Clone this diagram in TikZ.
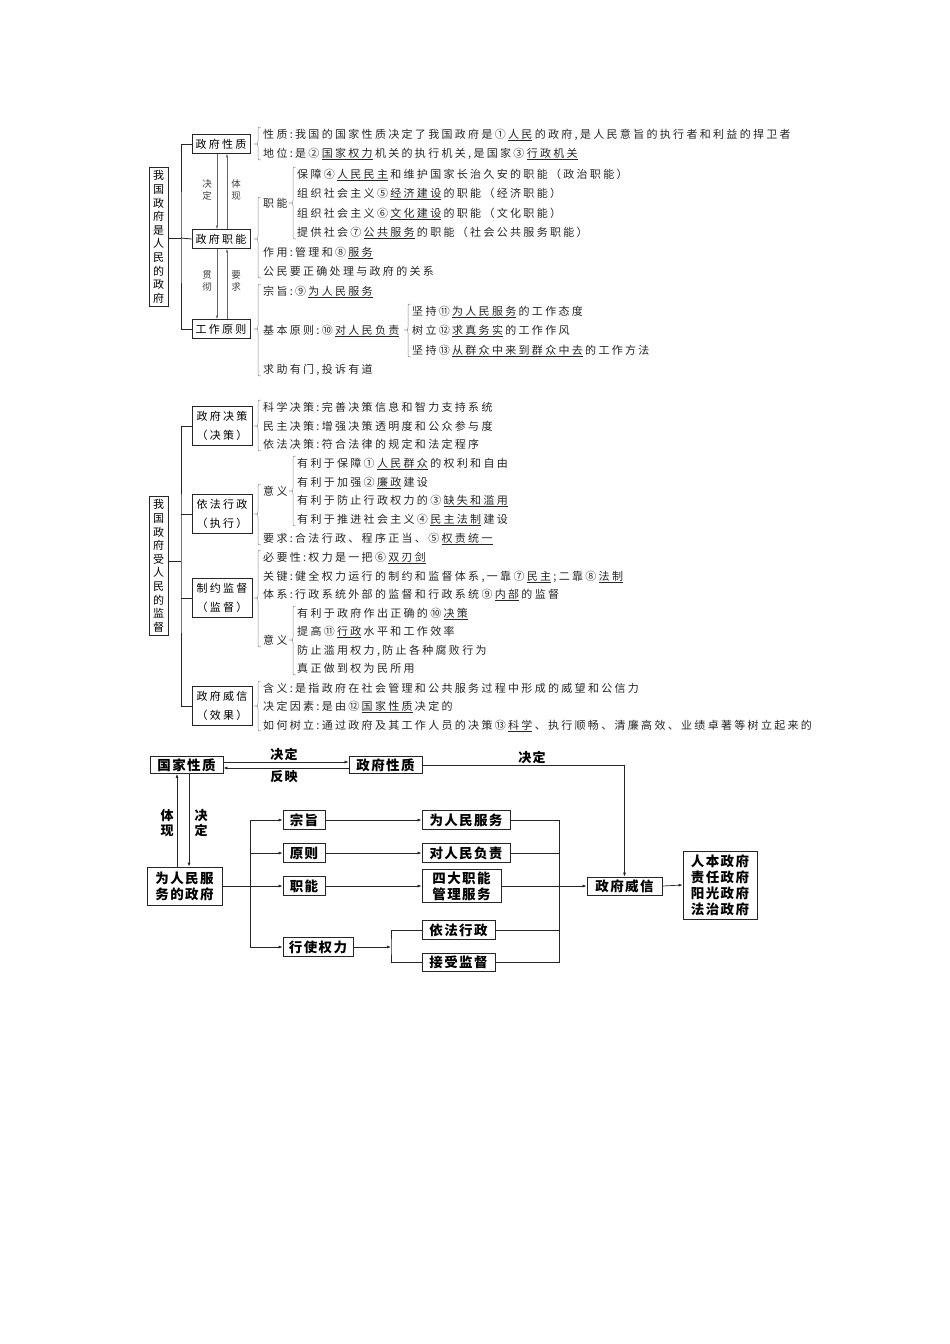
\documentclass[tikz,border=0pt]{standalone}
\usepackage{fontspec}
\newfontfamily\cjk{Noto Sans CJK SC}[LetterSpace=21]
\newfontfamily\cjkv{Noto Sans CJK SC}
\newfontfamily\cjkb{Noto Sans CJK SC}[LetterSpace=10]
\usetikzlibrary{arrows.meta,shadows}
\newcommand\uu[1]{\hspace{2.3pt}\underline{#1}\hspace{2.3pt}}
\tikzset{
  txt/.style={inner sep=0pt, anchor=west, text height=9.6pt, text depth=1.4pt,
    font=\cjk\fontsize{11}{13}\selectfont, text=black!85},
  tbox/.style={draw=black!85, line width=0.7pt, fill=white, inner sep=0pt,
    minimum width=58pt, minimum height=19pt, font=\cjk\fontsize{11}{13}\selectfont,
    drop shadow={shadow xshift=0.8pt, shadow yshift=-0.8pt, opacity=1, fill=black!70}},
  tboxb/.style={tbox, minimum width=60pt, minimum height=39pt, align=center,
    font=\cjk\fontsize{11}{19}\selectfont},
  vbox/.style={draw=black!85, line width=0.7pt, fill=white, inner sep=0pt,
    minimum width=19pt, minimum height=139pt, align=center,
    font=\cjkv\fontsize{11}{13.6}\selectfont,
    drop shadow={shadow xshift=0.8pt, shadow yshift=-0.8pt, opacity=1, fill=black!70}},
  lbl/.style={inner sep=0pt, align=center, font=\cjkv\fontsize{9.5}{12}\selectfont, text=black!75},
  thinarr/.style={draw=black!60, line width=0.5pt, -{Latex[length=3.5pt,width=2.5pt]}},
  brc/.style={draw=black!45, line width=0.5pt},
  tree/.style={draw=black!85, line width=0.8pt},
  fb/.style={draw=black!85, line width=0.8pt, inner sep=0pt, align=center,
    font=\cjkb\bfseries\fontsize{13.5}{16}\selectfont},
  farr/.style={draw=black!85, line width=0.7pt, -{Latex[length=4pt,width=3pt]}},
  fline/.style={draw=black!85, line width=0.7pt},
  flbl/.style={inner sep=0pt, align=center, font=\cjkb\bfseries\fontsize{13}{15.5}\selectfont},
}
\newcommand\brc[4]{\draw[brc] (#1+3,#2) .. controls (#1,#2) .. (#1,#2+3) -- (#1,#3-3) .. controls (#1,#3) .. (#1-4,#3) .. controls (#1,#3) .. (#1,#3+3) -- (#1,#4-3) .. controls (#1,#4) .. (#1+3,#4);}
\begin{document}
\begin{tikzpicture}[x=1pt,y=-1pt]
\useasboundingbox (0,0) rectangle (950,1344);
\fill[white] (0,0) rectangle (950,1344);

% ================= Section 1 =================
\node[vbox] (v1) at (158.5,237) {我\\国\\政\\府\\是\\人\\民\\的\\政\\府};
\node[tbox] (gs) at (221,144) {政府性质};
\node[tbox] (gz) at (221,239) {政府职能};
\node[tbox] (gy) at (221,329) {工作原则};
\coordinate (j1) at (181,238);
\draw[tree] (v1.east |- j1) -- (j1);
\draw[tree] (gs.west) -| (j1) |- (gy.west);
\draw[tree] (j1) -- (gz.west);

\draw[thinarr] ([xshift=-4pt]gs.south) -- ([xshift=-4pt]gz.north);
\draw[thinarr] ([xshift=6pt]gz.north) -- ([xshift=6pt]gs.south);
\draw[thinarr] ([xshift=-4pt]gz.south) -- ([xshift=-4pt]gy.north);
\draw[thinarr] ([xshift=6pt]gy.north) -- ([xshift=6pt]gz.south);
\node[lbl] (l1) at (207,190) {决\\定};
\node[lbl] (l2) at (236,190) {体\\现};
\node[lbl] (l3) at (207,281) {贯\\彻};
\node[lbl] (l4) at (236,281) {要\\求};

\brc{258}{127}{144}{160}
\brc{258}{197}{239}{278}
\brc{293}{167}{203}{239}
\brc{258}{284}{329}{376}
\brc{408}{304}{330}{357}

\node[txt] (t11) at (263,134) {性质:我国的国家性质决定了我国政府是①\uu{人民}的政府,是人民意旨的执行者和利益的捍卫者};
\node[txt] (t12) at (263,153) {地位:是②\uu{国家权力}机关的执行机关,是国家③\uu{行政机关}};
\node[txt] (t13) at (263,203) {职能};
\node[txt] (t131) at (297,174) {保障④\uu{人民民主}和维护国家长治久安的职能（政治职能）};
\node[txt] (t132) at (297,193) {组织社会主义⑤\uu{经济建设}的职能（经济职能）};
\node[txt] (t133) at (297,213) {组织社会主义⑥\uu{文化建设}的职能（文化职能）};
\node[txt] (t134) at (297,232) {提供社会⑦\uu{公共服务}的职能（社会公共服务职能）};
\node[txt] (t14) at (263,252) {作用:管理和⑧\uu{服务}};
\node[txt] (t15) at (263,271) {公民要正确处理与政府的关系};
\node[txt] (t16) at (263,291) {宗旨:⑨\uu{为人民服务}};
\node[txt] (t17) at (263,330) {基本原则:⑩\uu{对人民负责}};
\node[txt] (t171) at (412,311) {坚持⑪\uu{为人民服务}的工作态度};
\node[txt] (t172) at (412,330) {树立⑫\uu{求真务实}的工作作风};
\node[txt] (t173) at (412,350) {坚持⑬\uu{从群众中来到群众中去}的工作方法};
\node[txt] (t18) at (263,369) {求助有门,投诉有道};

% ================= Section 2 =================
\node[vbox] (v2) at (158.5,566) {我\\国\\政\\府\\受\\人\\民\\的\\监\\督};
\node[tboxb] (b1) at (222,426) {政府决策\\（决策）};
\node[tboxb] (b2) at (222,514) {依法行政\\（执行）};
\node[tboxb] (b3) at (222,598) {制约监督\\（监督）};
\node[tboxb] (b4) at (222,706) {政府威信\\（效果）};
\coordinate (j2) at (181,561);
\draw[tree] (j2 -| v2.east) -- (j2);
\draw[tree] (b1.west) -| (j2) |- (b4.west);
\draw[tree] (b2.west) -- (b2.west -| j2);
\draw[tree] (b3.west) -- (b3.west -| j2);

\brc{258}{400}{426}{451}
\brc{258}{484}{514}{545}
\brc{293}{456}{491}{526}
\brc{258}{550}{598}{647}
\brc{293}{606}{640}{675}
\brc{258}{681}{706}{731}

\node[txt] (s1) at (263,407) {科学决策:完善决策信息和智力支持系统};
\node[txt] (s2) at (263,426) {民主决策:增强决策透明度和公众参与度};
\node[txt] (s3) at (263,444) {依法决策:符合法律的规定和法定程序};
\node[txt] (s4) at (263,491) {意义};
\node[txt] (s41) at (297,463) {有利于保障①\uu{人民群众}的权利和自由};
\node[txt] (s42) at (297,482) {有利于加强②\uu{廉政}建设};
\node[txt] (s43) at (297,500) {有利于防止行政权力的③\uu{缺失和滥用}};
\node[txt] (s44) at (297,519) {有利于推进社会主义④\uu{民主法制}建设};
\node[txt] (s5) at (263,538) {要求:合法行政、程序正当、⑤\uu{权责统一}};
\node[txt] (s6) at (263,557) {必要性:权力是一把⑥\uu{双刃剑}};
\node[txt] (s7) at (263,576) {关键:健全权力运行的制约和监督体系,一靠⑦\uu{民主};二靠⑧\uu{法制}};
\node[txt] (s8) at (263,594) {体系:行政系统外部的监督和行政系统⑨\uu{内部}的监督};
\node[txt] (s9) at (263,640) {意义};
\node[txt] (s91) at (297,613) {有利于政府作出正确的⑩\uu{决策}};
\node[txt] (s92) at (297,631) {提高⑪\uu{行政}水平和工作效率};
\node[txt] (s93) at (297,650) {防止滥用权力,防止各种腐败行为};
\node[txt] (s94) at (297,668) {真正做到权为民所用};
\node[txt] (s10) at (263,688) {含义:是指政府在社会管理和公共服务过程中形成的威望和公信力};
\node[txt] (s11) at (263,706) {决定因素:是由⑫\uu{国家性质}决定的};
\node[txt] (s12) at (263,725) {如何树立:通过政府及其工作人员的决策⑬\uu{科学}、执行顺畅、清廉高效、业绩卓著等树立起来的};

% ================= Section 3 =================
\node[fb, minimum width=73pt, minimum height=17pt] (gj) at (186.5,765) {国家性质};
\node[fb, minimum width=73pt, minimum height=17pt] (zx) at (385.5,765) {政府性质};
\node[fb, minimum width=75pt, minimum height=38pt] (wr) at (184.5,886) {为人民服\\务的政府};
\node[fb, minimum width=42pt, minimum height=19pt] (zz) at (304,820) {宗旨};
\node[fb, minimum width=42pt, minimum height=19pt] (yz) at (304,853) {原则};
\node[fb, minimum width=42pt, minimum height=19pt] (zn) at (304,886) {职能};
\node[fb, minimum width=70pt, minimum height=19pt] (xs) at (318,947) {行使权力};
\node[fb, minimum width=88pt, minimum height=19pt] (wf) at (466,820) {为人民服务};
\node[fb, minimum width=88pt, minimum height=19pt] (dr) at (466,853) {对人民负责};
\node[fb, minimum width=79pt, minimum height=33pt] (sd) at (461.5,886) {四大职能\\管理服务};
\node[fb, minimum width=73pt, minimum height=19pt] (yf) at (458.5,930) {依法行政};
\node[fb, minimum width=73pt, minimum height=18pt] (js) at (458.5,962) {接受监督};
\node[fb, minimum width=75pt, minimum height=18pt] (wx) at (624.5,886) {政府威信};
\node[fb, minimum width=74pt, minimum height=68pt] (rb) at (720,885) {人本政府\\责任政府\\阳光政府\\法治政府};

\draw[farr] ([yshift=3pt]gj.east) -- ([yshift=3pt]zx.west);
\draw[farr] ([yshift=-3pt]zx.west) -- ([yshift=-3pt]gj.east);
\node[flbl] (k1) at (284,754) {决定};
\node[flbl] (k2) at (284,777) {反映};
\draw[farr] (zx.east) -| (wx.north);
\node[flbl] (k3) at (532,757) {决定};

\draw[farr] ([xshift=2.5pt]gj.south) -- ([xshift=4.5pt]wr.north);
\draw[farr] ([xshift=-7.5pt]wr.north) -- ([xshift=-9.5pt]gj.south);
\node[flbl] (k4) at (167,823) {体\\现};
\node[flbl] (k5) at (201,823) {决\\定};

\coordinate (bus) at (250,886);
\draw[farr] (wr.east) -- (zn.west);
\draw[farr] (bus) |- (zz.west);
\draw[farr] (bus) |- (yz.west);
\draw[farr] (bus) |- (xs.west);
\draw[farr] (zz.east) -- (wf.west);
\draw[farr] (yz.east) -- (dr.west);
\draw[farr] (zn.east) -- (sd.west);

\coordinate (xb) at (391,947);
\draw[farr] (xs.east) -- (xb);
\draw[fline] (yf.west) -| (xb) |- (js.west);

\coordinate (cb) at (559,886);
\draw[fline] (wf.east) -| (cb);
\draw[fline] (js.east) -| (cb);
\draw[fline] (dr.east) -- (dr.east -| cb);
\draw[fline] (yf.east) -- (yf.east -| cb);
\draw[farr] (sd.east) -- (wx.west);
\draw[farr] (wx.east) -- (rb.west);
\end{tikzpicture}
\end{document}
